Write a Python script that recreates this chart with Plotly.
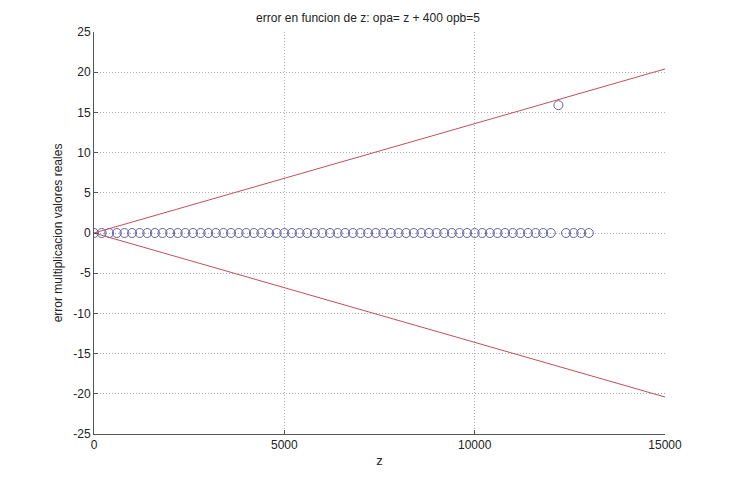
import plotly.graph_objects as go

# data
z_vals = [0, 200, 400, 600, 800, 1000, 1200, 1400, 1600, 1800, 2000, 2200, 2400, 2600, 2800,
          3000, 3200, 3400, 3600, 3800, 4000, 4200, 4400, 4600, 4800, 5000, 5200, 5400, 5600,
          5800, 6000, 6200, 6400, 6600, 6800, 7000, 7200, 7400, 7600, 7800, 8000, 8200, 8400,
          8600, 8800, 9000, 9200, 9400, 9600, 9800, 10000, 10200, 10400, 10600, 10800, 11000,
          11200, 11400, 11600, 11800, 12000, 12200, 12400, 12600, 12800, 13000]
err_vals = [0.0] * 61 + [15.9] + [0.0] * 4
bound_z = [0, 15000]
upper_bound = [0, 20.4]
lower_bound = [0, -20.4]

x_ticks = [0, 5000, 10000, 15000]
y_ticks = [-25, -20, -15, -10, -5, 0, 5, 10, 15, 20, 25]

fig = go.Figure()
fig.add_trace(go.Scatter(x=z_vals, y=err_vals, mode="markers",
                         marker=dict(symbol="circle-open", size=9, color="#6262aa",
                                     line=dict(width=1)),
                         showlegend=False))
fig.add_trace(go.Scatter(x=bound_z, y=upper_bound, mode="lines",
                         line=dict(color="#c0505a", width=1), showlegend=False))
fig.add_trace(go.Scatter(x=bound_z, y=lower_bound, mode="lines",
                         line=dict(color="#c0505a", width=1), showlegend=False))

font = dict(family="Liberation Sans, Arial, sans-serif", size=12, color="#222")
fig.update_layout(
    width=736, height=478,
    margin=dict(l=94, r=71, t=32, b=42),
    paper_bgcolor="white", plot_bgcolor="white",
    font=font,
    title=dict(text="error en funcion de z: opa= z + 400 opb=5", x=0.5, xanchor="center",
               y=1 - 18 / 478, yanchor="middle", font=dict(size=12)),
    xaxis=dict(range=[0, 15000], tickvals=x_ticks, ticktext=[str(v) for v in x_ticks],
               showgrid=True, gridcolor="#b0b0b0", griddash="1px,2px", gridwidth=1,
               showline=True, linecolor="#555", linewidth=1, mirror=False,
               ticks="inside", ticklen=4, tickcolor="#555", zeroline=False,
               title=dict(text="z", standoff=4, font=dict(size=13)), tickfont=dict(size=12)),
    yaxis=dict(range=[-25, 25], tickvals=y_ticks, ticktext=[str(v) for v in y_ticks],
               showgrid=True, gridcolor="#b0b0b0", griddash="1px,2px", gridwidth=1,
               showline=True, linecolor="#555", linewidth=1, mirror=False,
               ticks="inside", ticklen=4, tickcolor="#555", zeroline=False,
               title=dict(text="error multiplicacion valores reales", standoff=8,
                          font=dict(size=12)),
               tickfont=dict(size=12)),
)
fig.write_html("out.html")
